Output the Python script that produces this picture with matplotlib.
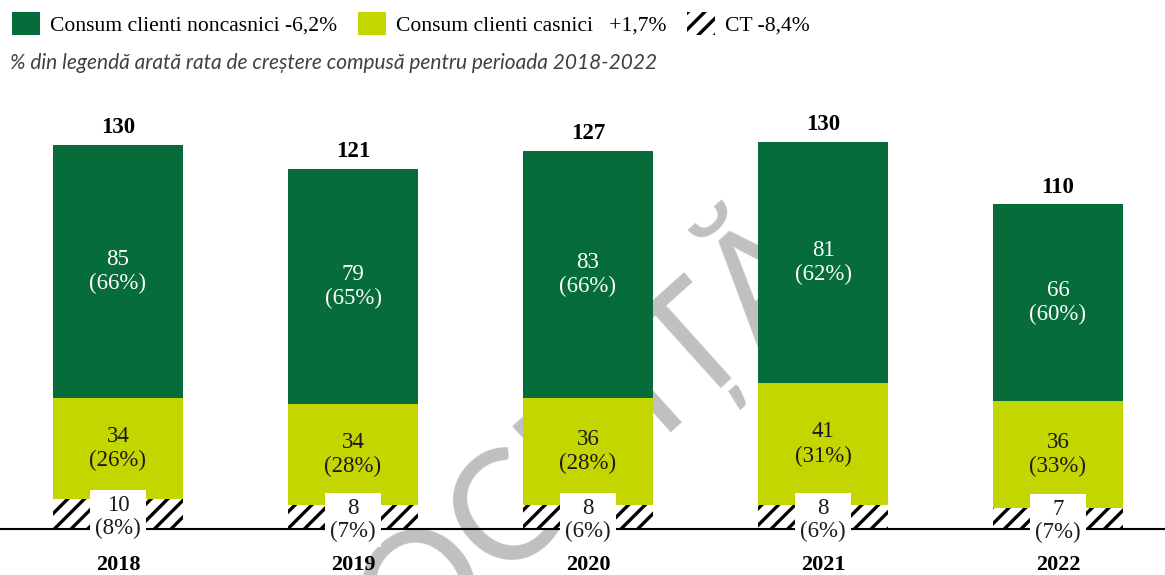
import matplotlib.pyplot as plt
from matplotlib.patches import Patch

# date
years = ['2018', '2019', '2020', '2021', '2022']
noncasnici = [85, 79, 83, 81, 66]
casnici = [34, 34, 36, 41, 36]
ct = [10, 8, 8, 8, 7]
totals = [130, 121, 127, 130, 110]
pct_noncasnici = [66, 65, 66, 62, 60]
pct_casnici = [26, 28, 28, 31, 33]
pct_ct = [8, 7, 6, 6, 7]

leg_labels = ['Consum clienti noncasnici -6,2%',
              'Consum clienti casnici   +1,7%',
              'CT -8,4%']
subtitle = '% din legendă arată rata de creștere compusă pentru perioada 2018-2022'
watermark = 'LOCUIȚĂ'

green = '#066c3a'
lime = '#c4d600'
serif = 'Liberation Serif'
fs = 16.5

plt.rcParams['hatch.linewidth'] = 2.4

fig = plt.figure(figsize=(11.65, 5.75), dpi=100)
ax = fig.add_axes([0, 46 / 575, 1, 446.6 / 575])
ax.patch.set_visible(False)

x = list(range(len(years)))
w = 0.553
bottom2 = [a + b for a, b in zip(ct, casnici)]
tops = [a + b for a, b in zip(bottom2, noncasnici)]

ax.bar(x, ct, w, color='white', edgecolor='black', linewidth=0, hatch='//', zorder=2)
ax.bar(x, casnici, w, bottom=ct, color=lime, linewidth=0, zorder=2)
ax.bar(x, noncasnici, w, bottom=bottom2, color=green, linewidth=0, zorder=2)

for i in x:
    ax.text(i, bottom2[i] + noncasnici[i] / 2, f'{noncasnici[i]}\n({pct_noncasnici[i]}%)',
            ha='center', va='center', color='white', fontsize=fs, family=serif,
            linespacing=1.2, zorder=4)
    ax.text(i, ct[i] + casnici[i] / 2, f'{casnici[i]}\n({pct_casnici[i]}%)',
            ha='center', va='center', color='#1a1a1a', fontsize=fs, family=serif,
            linespacing=1.2, zorder=4)
    ax.text(i, ct[i] / 2 - 0.9, f'{ct[i]}\n({pct_ct[i]}%)',
            ha='center', va='center', color='#1a1a1a', fontsize=fs, family=serif,
            linespacing=1.1, zorder=5,
            bbox=dict(boxstyle='square,pad=0.22', facecolor='white', edgecolor='none'))
    ax.annotate(str(totals[i]), (i, tops[i]), xytext=(0, 5), textcoords='offset points',
                ha='center', va='bottom', fontsize=fs, fontweight='bold', family=serif)

ax.set_xlim(-118 / 235, (1165 - 118) / 235)
ax.set_ylim(0, 150)
for s in ['top', 'right', 'left']:
    ax.spines[s].set_visible(False)
ax.spines['bottom'].set_linewidth(1.5)
ax.spines['bottom'].set_zorder(3)
ax.set_yticks([])
ax.set_xticks(x)
ax.set_xticklabels(years, fontsize=16, fontweight='bold', family=serif)
ax.tick_params(axis='x', length=0, pad=19)

# watermark gri, in spatele barelor
fig.text(833 / 1165, 1 - 274 / 575, watermark, rotation=42, rotation_mode='anchor',
         ha='right', va='baseline', fontsize=110, family='Lato', color='#c0c0c0', zorder=-1)

handles = [Patch(facecolor=green, edgecolor='none'),
           Patch(facecolor=lime, edgecolor='none'),
           Patch(facecolor='white', edgecolor='black', linewidth=0, hatch='//')]
fig.legend(handles, leg_labels, loc='upper left', bbox_to_anchor=(12 / 1165, 1 - 12 / 575),
           ncol=3, frameon=False, borderpad=0, borderaxespad=0,
           prop={'family': serif, 'size': 15.6}, handlelength=1.3, handleheight=1.25,
           handletextpad=0.45, columnspacing=0.95)

fig.text(10 / 1165, 1 - 63 / 575, subtitle, ha='left', va='center', fontsize=15,
         style='italic', color='#404040', family='Lato')

fig.savefig('out.png', dpi=100)
